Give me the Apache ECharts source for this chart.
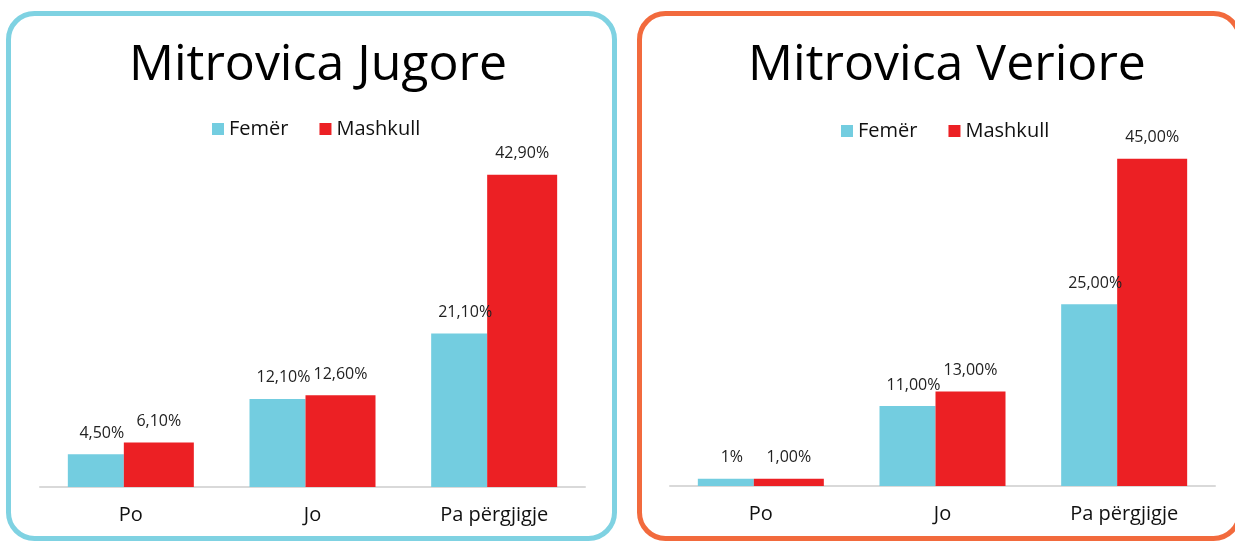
<!DOCTYPE html>
<html>
<head>
<meta charset="utf-8">
<script src="https://cdn.jsdelivr.net/npm/echarts@6/dist/echarts.min.js"></script>
<style>
  html, body { margin: 0; padding: 0; background: #fff; }
  #main { width: 1235px; height: 541px; }
</style>
</head>
<body>
<div id="main"></div>
<script>
var categories = ['Po', 'Jo', 'Pa përgjigje'];
var seriesNames = ['Femër', 'Mashkull'];

// Mitrovica Jugore
var jugoreFemer = [4.5, 12.1, 21.1];
var jugoreMashkull = [6.1, 12.6, 42.9];
var jugoreFemerLabels = ['4,50%', '12,10%', '21,10%'];
var jugoreMashkullLabels = ['6,10%', '12,60%', '42,90%'];

// Mitrovica Veriore
var verioreFemer = [1, 11, 25];
var verioreMashkull = [1, 13, 45];
var verioreFemerLabels = ['1%', '11,00%', '25,00%'];
var verioreMashkullLabels = ['1,00%', '13,00%', '45,00%'];

var blue = '#73cde0';
var red = '#ec2024';
var font = 'Open Sans';

var myChart = echarts.init(document.getElementById('main'));

function xAxisFor(idx) {
    return {
        type: 'category',
        gridIndex: idx,
        data: categories,
        axisLine: { lineStyle: { color: '#d9d9d9', width: 2 } },
        axisTick: { show: false },
        axisLabel: { color: '#111', fontSize: 20, fontFamily: font, margin: 18 }
    };
}

function yAxisFor(idx) {
    return {
        type: 'value',
        gridIndex: idx,
        min: 0,
        max: 50,
        show: false,
        splitLine: { show: false }
    };
}

function barSeries(name, idx, values, labels, color, width, dx) {
    return {
        name: name,
        type: 'bar',
        xAxisIndex: idx,
        yAxisIndex: idx,
        data: values,
        barWidth: width,
        barGap: '0%',
        itemStyle: { color: color },
        label: {
            show: true,
            position: 'top',
            distance: 13,
            offset: [dx, 0],
            color: '#222',
            fontSize: 16,
            fontFamily: font,
            formatter: function (p) { return labels[p.dataIndex]; }
        },
        emphasis: { disabled: true }
    };
}

var option = {
    animation: false,
    graphic: [
        {
            type: 'rect',
            shape: { x: 8.5, y: 13.5, width: 606, height: 525, r: 26 },
            style: { fill: 'none', stroke: '#7fd2e2', lineWidth: 5 }
        },
        {
            type: 'rect',
            shape: { x: 639.5, y: 13.5, width: 600, height: 525, r: 26 },
            style: { fill: 'none', stroke: '#f26a3d', lineWidth: 5 }
        }
    ],
    title: [
        {
            text: 'Mitrovica Jugore',
            left: 313, top: 36, textAlign: 'center',
            textStyle: { fontFamily: font, fontWeight: 'normal', fontSize: 50, color: '#000' }
        },
        {
            text: 'Mitrovica Veriore',
            left: 942, top: 36, textAlign: 'center',
            textStyle: { fontFamily: font, fontWeight: 'normal', fontSize: 50, color: '#000' }
        }
    ],
    legend: [
        {
            data: seriesNames,
            left: 207, top: 114,
            itemWidth: 12, itemHeight: 12, itemGap: 31,
            icon: 'rect',
            textStyle: { fontFamily: font, fontSize: 20, color: '#111' }
        },
        {
            data: seriesNames,
            left: 836, top: 116,
            itemWidth: 12, itemHeight: 12, itemGap: 31,
            icon: 'rect',
            textStyle: { fontFamily: font, fontSize: 20, color: '#111' }
        }
    ],
    grid: [
        { left: 40, width: 545, top: 123, height: 364 },
        { left: 670, width: 545, top: 122.5, height: 363.5 }
    ],
    xAxis: [xAxisFor(0), xAxisFor(1)],
    yAxis: [yAxisFor(0), yAxisFor(1)],
    series: [
        barSeries(seriesNames[0], 0, jugoreFemer, jugoreFemerLabels, blue, 56, 6),
        barSeries(seriesNames[1], 0, jugoreMashkull, jugoreMashkullLabels, red, 70, 0),
        barSeries(seriesNames[0], 1, verioreFemer, verioreFemerLabels, blue, 56, 6),
        barSeries(seriesNames[1], 1, verioreMashkull, verioreMashkullLabels, red, 70, 0)
    ]
};

myChart.setOption(option);
</script>
</body>
</html>
